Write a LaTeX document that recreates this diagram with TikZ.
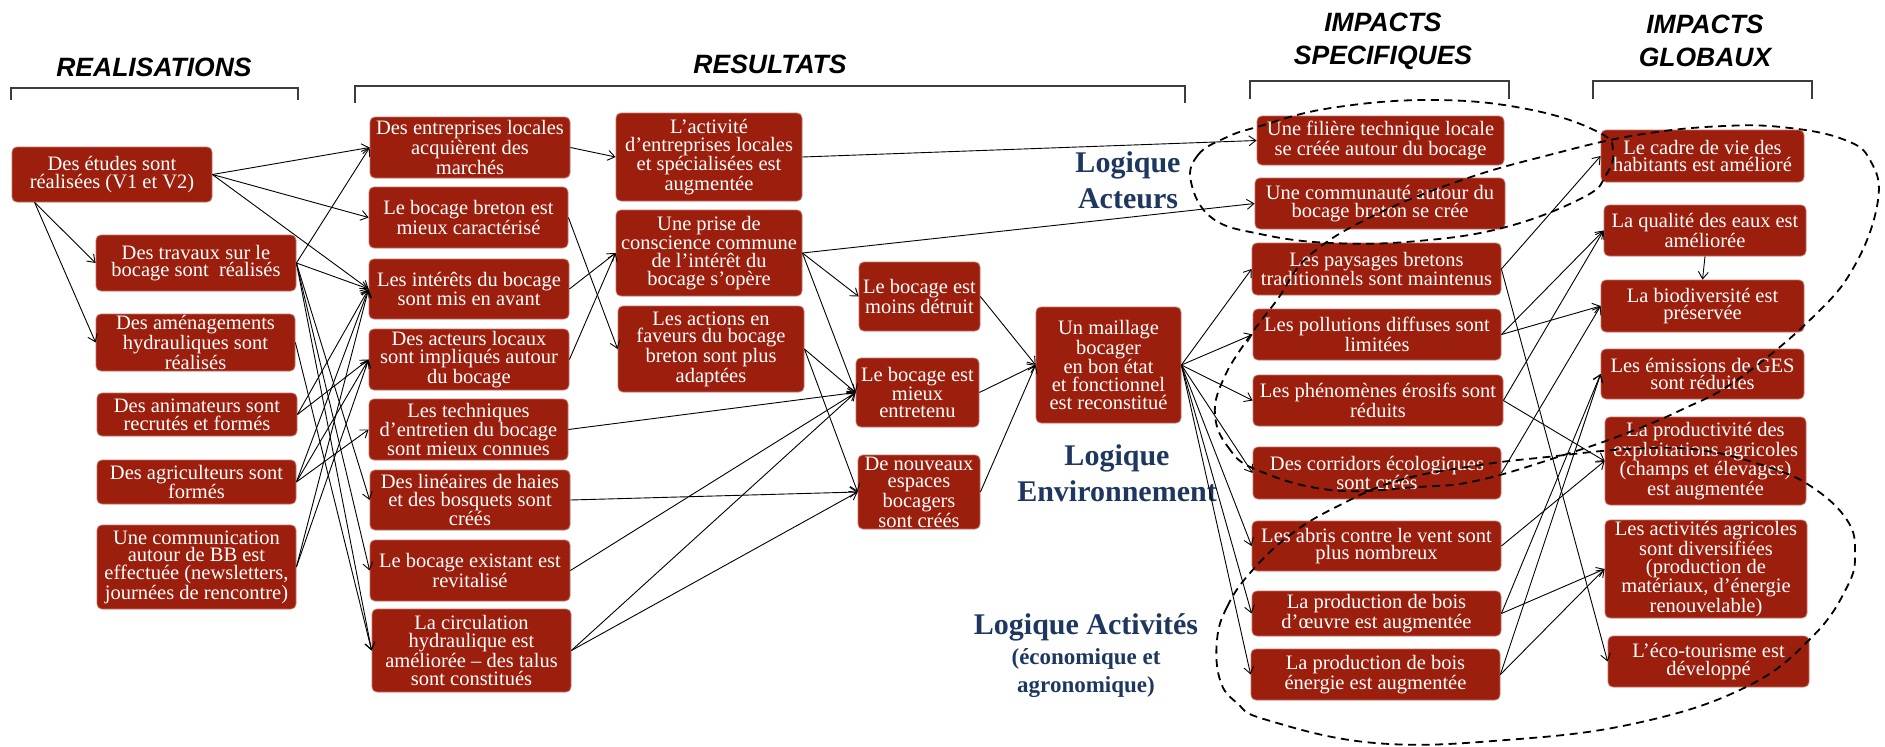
\documentclass[tikz,border=0pt]{standalone}
\usepackage{fontspec}
\setmainfont{Liberation Serif}
\newfontfamily\headfont{Liberation Sans}
\usetikzlibrary{arrows.meta}
\definecolor{boxred}{RGB}{156,30,13}
\definecolor{boxedge}{RGB}{196,110,100}
\definecolor{navy}{RGB}{30,55,95}
\definecolor{brk}{RGB}{60,60,60}
\tikzset{
  box/.style={draw=boxedge, line width=0.8pt, fill=boxred, rounded corners=5pt,
    text=white, align=center, inner sep=1pt,
    font=\fontsize{20.5}{17.7}\selectfont},
  arr/.style={-{Straight Barb[length=7pt,width=10pt]}, line width=0.9pt},
  head/.style={align=center, font=\headfont\bfseries\itshape\fontsize{26.5}{33}\selectfont},
  logic/.style={align=center, text=navy, font=\bfseries\fontsize{30}{36}\selectfont},
  logicsub/.style={align=center, text=navy, font=\bfseries\fontsize{23}{28}\selectfont},
  bracket/.style={draw=brk, line width=1.3pt},
  zone/.style={draw=black, line width=1.8pt, dash pattern=on 8pt off 5.5pt},
}
\begin{document}
\begin{tikzpicture}[x=1pt,y=-1pt]
\useasboundingbox (0,0) rectangle (1885,747);

% column headings and their brackets
\node[head] (hR) at (154,67) {REALISATIONS};
\node[head] (hS) at (770,64) {RESULTATS};
\node[head] (hI) at (1383,41) {IMPACTS\\SPECIFIQUES};
\node[head] (hG) at (1705,41) {IMPACTS\\GLOBAUX};
\draw[bracket] (11,100) -- (11,88) -- (298,88) -- (298,100);
\draw[bracket] (355,103) -- (355,86) -- (1185,86) -- (1185,103);
\draw[bracket] (1250,99) -- (1250,81) -- (1509,81) -- (1509,99);
\draw[bracket] (1593,99) -- (1593,81) -- (1812,81) -- (1812,99);

% realisations
\node[box, minimum width=200, minimum height=55] (E1) at (112,174.5) {Des études sont\\réalisées (V1 et V2)};
\node[box, minimum width=200, minimum height=56] (T) at (196,263) {Des travaux sur le\\bocage sont~~réalisés};
\node[box, minimum width=199, minimum height=57] (A) at (195.5,342.5) {Des aménagements\\hydrauliques sont\\réalisés};
\node[box, minimum width=200, minimum height=43] (An) at (197,414.5) {Des animateurs sont\\recrutés et formés};
\node[box, minimum width=199, minimum height=44] (Ag) at (196.5,482) {Des agriculteurs sont\\formés};
\node[box, minimum width=199, minimum height=84] (Co) at (196.5,567) {Une communication\\autour de BB est\\effectuée (newsletters,\\journées de rencontre)};

% resultats, first rank
\node[box, minimum width=200, minimum height=61] (R1) at (470,147.5) {Des entreprises locales\\acquièrent des\\marchés};
\node[box, minimum width=199, minimum height=61] (R2) at (468.5,217.5) {Le bocage breton est\\mieux caractérisé};
\node[box, minimum width=200, minimum height=60] (R3) at (469,289) {Les intérêts du bocage\\sont mis en avant};
\node[box, minimum width=200, minimum height=61] (R4) at (469,359.5) {Des acteurs locaux\\sont impliqués autour\\du bocage};
\node[box, minimum width=199, minimum height=61] (R5) at (468.5,429.5) {Les techniques\\d’entretien du bocage\\sont mieux connues};
\node[box, minimum width=200, minimum height=60] (R6) at (470,500) {Des linéaires de haies\\et des bosquets sont\\créés};
\node[box, minimum width=200, minimum height=61] (R7) at (470,570.5) {Le bocage existant est\\revitalisé};
\node[box, minimum width=199, minimum height=83] (R8) at (471.5,650.5) {La circulation\\hydraulique est\\améliorée – des talus\\sont constitués};

% resultats, second rank
\node[box, minimum width=186, minimum height=88] (S1) at (709,157) {L’activité\\d’entreprises locales\\et spécialisées est\\augmentée};
\node[box, minimum width=186, minimum height=86] (S2) at (709,253) {Une prise de\\conscience commune\\de l’intérêt du\\bocage s’opère};
\node[box, minimum width=186, minimum height=86] (S3) at (711,349) {Les actions en\\faveurs du bocage\\breton sont plus\\adaptées};

% resultats, third rank
\node[box, minimum width=121, minimum height=69] (M1) at (919.5,296.5) {Le bocage est\\moins détruit};
\node[box, minimum width=123, minimum height=69] (M2) at (917.5,392.5) {Le bocage est\\mieux\\entretenu};
\node[box, minimum width=122, minimum height=74] (M3) at (919,492) {De nouveaux\\espaces\\bocagers\\sont créés};
\node[box, minimum width=145, minimum height=116] (U) at (1108.5,365) {Un maillage\\bocager\\en bon état\\et fonctionnel\\est reconstitué};

% impacts specifiques
\node[box, minimum width=247, minimum height=49] (P1) at (1380.5,140.5) {Une filière technique locale\\se créée autour du bocage};
\node[box, minimum width=250, minimum height=51] (P2) at (1380,203.5) {Une communauté autour du\\bocage breton se crée};
\node[box, minimum width=249, minimum height=52] (P3) at (1376.5,269) {Les paysages bretons\\traditionnels sont maintenus};
\node[box, minimum width=248, minimum height=51] (P4) at (1377,334.5) {Les pollutions diffuses sont\\limitées};
\node[box, minimum width=250, minimum height=51] (P5) at (1378,400.5) {Les phénomènes érosifs sont\\réduits};
\node[box, minimum width=248, minimum height=52] (P6) at (1377,473) {Des corridors écologiques\\sont créés};
\node[box, minimum width=249, minimum height=50] (P7) at (1376.5,546) {Les abris contre le vent sont\\plus nombreux};
\node[box, minimum width=249, minimum height=45] (P8) at (1376.5,613.5) {La production de bois\\d’œuvre est augmentée};
\node[box, minimum width=249, minimum height=51] (P9) at (1375.5,674.5) {La production de bois\\énergie est augmentée};

% impacts globaux
\node[box, minimum width=203, minimum height=52] (G1) at (1702.5,156) {Le cadre de vie des\\habitants est amélioré};
\node[box, minimum width=202, minimum height=51] (G2) at (1705,230.5) {La qualité des eaux est\\améliorée};
\node[box, minimum width=203, minimum height=52] (G3) at (1702.5,306) {La biodiversité est\\préservée};
\node[box, minimum width=203, minimum height=50] (G4) at (1702.5,374) {Les émissions de GES\\sont réduites};
\node[box, minimum width=201, minimum height=88] (G5) at (1705.5,461) {La productivité des\\exploitations agricoles\\(champs et élevages)\\est augmentée};
\node[box, minimum width=202, minimum height=98] (G6) at (1706,569) {Les activités agricoles\\sont diversifiées\\(production de\\matériaux, d’énergie\\renouvelable)};
\node[box, minimum width=201, minimum height=51] (G7) at (1708.5,661.5) {L’éco-tourisme est\\développé};

% logic labels
\node[logic] (LA) at (1128,180) {Logique\\Acteurs};
\node[logic] (LE) at (1117,473) {Logique\\Environnement};
\node[logic] (LT) at (1086,627) {Logique Activités};
\node[logicsub] (LTs) at (1086,673) {(économique et\\agronomique)};

% realisations -> resultats
\draw[arr] (E1.east) -- (R1.west);
\draw[arr] (E1.east) -- (R2.west);
\draw[arr] (E1.east) -- (R3.west);
\draw[arr] ([xshift=23pt]E1.south west) -- (T.west);
\draw[arr] ([xshift=23pt]E1.south west) -- (A.west);
\draw[arr] (T.east) -- (R1.west);
\draw[arr] (T.east) -- (R3.west);
\draw[arr] (T.east) -- (R6.west);
\draw[arr] (T.east) -- (R7.west);
\draw[arr] (T.east) -- (R8.west);
\draw[arr] (A.east) -- (R8.west);
\draw[arr] (An.east) -- (R3.west);
\draw[arr] (An.east) -- (R4.west);
\draw[arr] (Ag.east) -- (R3.west);
\draw[arr] (Ag.east) -- (R4.west);
\draw[arr] (Ag.east) -- (R5.west);
\draw[arr] (Co.east) -- (R3.west);
\draw[arr] (Co.east) -- (R4.west);

% first rank -> second and third ranks
\draw[arr] (R1.east) -- (S1.west);
\draw[arr] (R2.east) -- (S3.west);
\draw[arr] (R3.east) -- (S2.west);
\draw[arr] (R4.east) -- (S2.west);
\draw[arr] (R5.east) -- (M2.west);
\draw[arr] (R6.east) -- (M3.west);
\draw[arr] (R7.east) -- (M2.west);
\draw[arr] (R8.east) -- (M2.west);
\draw[arr] (R8.east) -- (M3.west);
\draw[arr] (S2.east) -- (M1.west);
\draw[arr] (S2.east) -- (M2.west);
\draw[arr] (S3.east) -- (M2.west);
\draw[arr] (S3.east) -- (M3.west);
\draw[arr] (S1.east) -- (P1.west);
\draw[arr] (S2.east) -- (P2.west);
\draw[arr] (M1.east) -- (U.west);
\draw[arr] (M2.east) -- (U.west);
\draw[arr] (M3.east) -- (U.west);

% maillage -> impacts specifiques
\foreach \p in {P3,P4,P5,P6,P7,P8,P9}
  \draw[arr] (U.east) -- (\p.west);

% impacts specifiques -> impacts globaux
\draw[arr] (P3.east) -- (G1.west);
\draw[arr] (P3.east) -- (G7.west);
\draw[arr] (P4.east) -- (G2.west);
\draw[arr] (P4.east) -- (G3.west);
\draw[arr] (P5.east) -- (G2.west);
\draw[arr] (P5.east) -- (G5.west);
\draw[arr] (P6.east) -- (G3.west);
\draw[arr] (P7.east) -- (G5.west);
\draw[arr] (P8.east) -- (G4.west);
\draw[arr] (P8.east) -- (G6.west);
\draw[arr] (P9.east) -- (G4.west);
\draw[arr] (P9.east) -- (G6.west);
\draw[arr] (G2.south) -- (G3.north);

% dashed zones of the three logics
\draw[zone] plot[smooth cycle, tension=0.7] coordinates {
  (1191,182) (1198,155) (1225,138) (1257,127) (1331,108) (1436,100)
  (1532,110) (1600,133) (1613,152) (1606,175) (1584,197) (1506,227)
  (1418,241) (1331,243) (1260,234) (1212,218)};
\draw[zone] plot[smooth cycle, tension=0.7] coordinates {
  (1215,415) (1228,447) (1257,470) (1331,490) (1418,487) (1480,480)
  (1570,453) (1627,433) (1681,410) (1737,380) (1812,318) (1855,265)
  (1878,200) (1870,160) (1845,140) (1790,128) (1724,126) (1637,135)
  (1549,155) (1462,180) (1375,215) (1310,255) (1277,300) (1247,340)
  (1223,380)};
\draw[zone] plot[smooth cycle, tension=0.7] coordinates {
  (1217,640) (1227,607) (1250,573) (1290,535) (1340,505) (1400,480)
  (1480,465) (1547,457) (1630,449) (1700,450) (1768,467) (1812,487)
  (1847,520) (1855,553) (1847,587) (1812,637) (1746,687) (1637,723)
  (1506,740) (1375,743) (1267,720) (1237,703) (1220,680)};
\end{tikzpicture}
\end{document}
